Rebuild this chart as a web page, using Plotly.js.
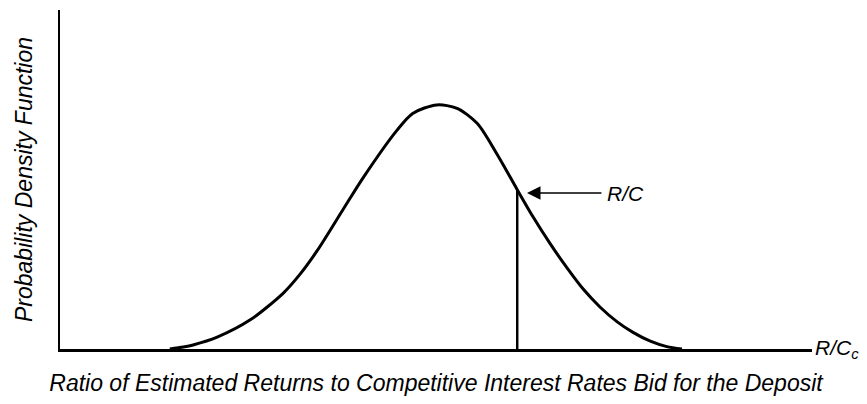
<!DOCTYPE html>
<html>
<head>
<meta charset="utf-8">
<script src="https://cdn.plot.ly/plotly-3.0.1.min.js"></script>
<style>html,body{margin:0;padding:0;background:#fff;}#chart{width:867px;height:404px;}</style>
</head>
<body>
<div id="chart"></div>
<script>
// Density curve (arbitrary units: x ratio axis 0-100, y density 0-100)
const curveX = [14.6, 16.4, 17.7, 20.9, 25.3, 29.7, 31.9, 34.2, 37.6, 40.3, 44.8, 46.9, 50.1, 52.8, 55.5, 58.1, 60.8, 62.9, 65.2, 67.4, 69.6, 71.8, 74.1, 76.2, 78.5, 80.7, 82.7];
const curveY = [0.0, 0.6, 1.2, 3.5, 8.6, 16.5, 22.0, 29.0, 41.0, 50.5, 64.5, 69.5, 72.0, 71.0, 66.5, 57.5, 47.0, 39.0, 31.0, 24.0, 17.6, 12.4, 8.0, 4.9, 2.3, 0.7, 0.0];
// Marked R/C point
const rcX = [60.8, 60.8];
const rcY = [0, 47.0];
const rcArrowTip = [62.1, 46.0];
const rcArrowTail = [72.0, 46.0];
const rcLabel = "R/C";
const axisEndLabel = "R/C<sub>c</sub>";
const xTitle = "Ratio of Estimated Returns to Competitive Interest Rates Bid for the Deposit";
const yTitle = "Probability Density Function";

const fontFam = "Liberation Sans, Arial, sans-serif";

const traces = [
  {x: curveX, y: curveY, mode: "lines", line: {color: "#000", width: 3, shape: "spline", smoothing: 0.8}, hoverinfo: "skip", showlegend: false},
  {x: rcX, y: rcY, mode: "lines", line: {color: "#000", width: 2.5}, hoverinfo: "skip", showlegend: false}
];

const layout = {
  width: 867, height: 404,
  margin: {l: 60, r: 55, t: 10, b: 55},
  paper_bgcolor: "#fff", plot_bgcolor: "#fff",
  showlegend: false,
  font: {family: fontFam, color: "#000"},
  xaxis: {range: [0, 100], showgrid: false, zeroline: false, showticklabels: false, ticks: "",
          showline: true, linecolor: "#000", linewidth: 2.5, fixedrange: true,
          title: {text: "<i>" + xTitle + "</i>", font: {size: 23, family: fontFam}, standoff: 25}},
  yaxis: {range: [0, 100], showgrid: false, zeroline: false, showticklabels: false, ticks: "",
          showline: true, linecolor: "#000", linewidth: 2.5, fixedrange: true,
          title: {text: "<i>" + yTitle + "</i>", font: {size: 23, family: fontFam}, standoff: 19}},
  annotations: [
    {x: rcArrowTip[0], y: rcArrowTip[1], xref: "x", yref: "y", ax: rcArrowTail[0], ay: rcArrowTail[1],
     axref: "x", ayref: "y", text: "<i>" + rcLabel + "</i>", xanchor: "left", yanchor: "middle",
     borderpad: 5, showarrow: true, arrowhead: 2, arrowsize: 1.8, arrowwidth: 1.5, arrowcolor: "#000",
     font: {size: 21, family: fontFam, color: "#000"}},
    {x: 1, y: 0, xref: "paper", yref: "y", text: "<i>" + axisEndLabel + "</i>", showarrow: false,
     xanchor: "left", yanchor: "middle", xshift: 1, font: {size: 21, family: fontFam, color: "#000"}}
  ]
};

Plotly.newPlot("chart", traces, layout, {displayModeBar: false, staticPlot: true});
</script>
</body>
</html>
